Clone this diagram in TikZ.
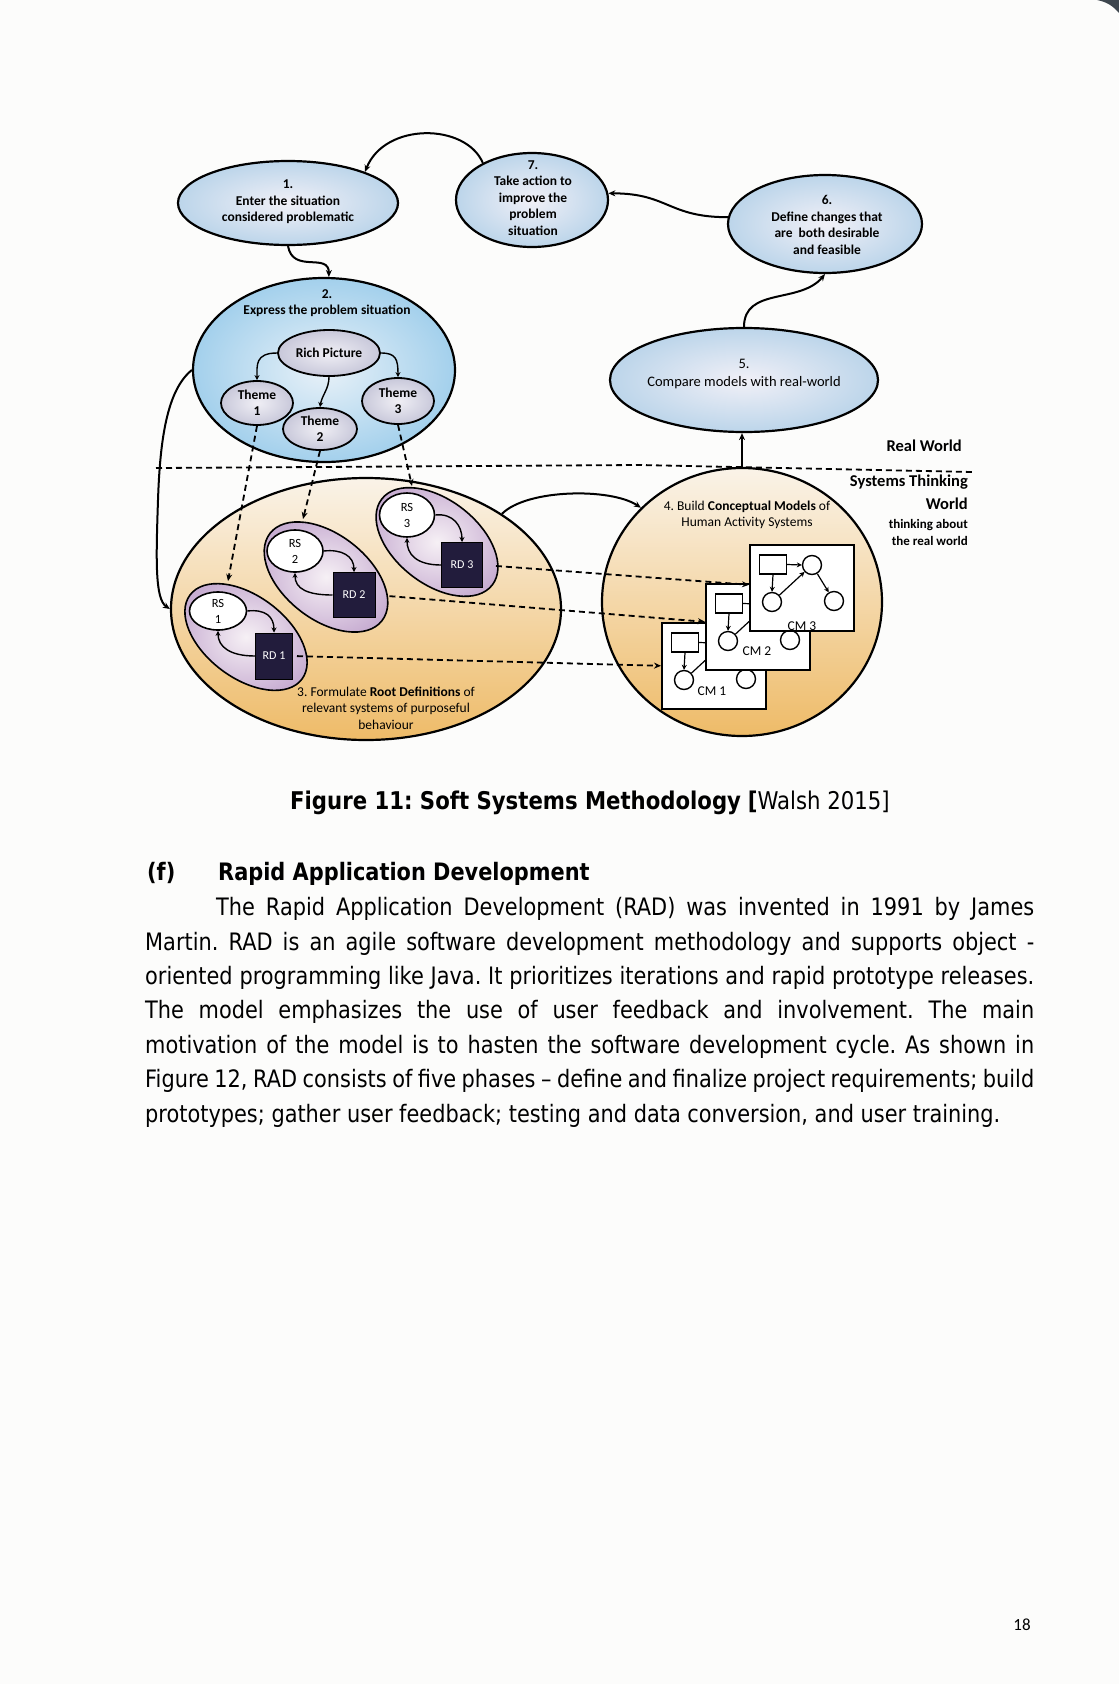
\documentclass[tikz,border=0pt]{standalone}
\usepackage{fontspec}
\usetikzlibrary{shapes.geometric,arrows.meta,calc}
\newfontfamily\diagfont{Carlito}
\newfontfamily\bodyfont[FakeStretch=0.87]{DejaVu Sans}
\definecolor{pagebg}{HTML}{FCFCFB}
\definecolor{blueIn}{HTML}{F1F0F7}
\definecolor{blueOut}{HTML}{BCD5EA}
\definecolor{ebIn}{HTML}{E8F1F8}
\definecolor{ebOut}{HTML}{A3D0EC}
\definecolor{lavIn}{HTML}{F0EFF5}
\definecolor{lavOut}{HTML}{C8C8DA}
\definecolor{orTop}{HTML}{FAF3E8}
\definecolor{orMid}{HTML}{F6DDB2}
\definecolor{orBot}{HTML}{EEBB68}
\definecolor{pinkIn}{HTML}{F6F0F5}
\definecolor{pinkOut}{HTML}{C8AED2}
\definecolor{rdfill}{HTML}{221C3C}
\definecolor{cornerdark}{HTML}{3E464E}
\newcommand{\cmdiag}[3]{%
  \node[cmbox] (#1) at (#2,#3) {};
  \node[cmrect] (#1r) at ($(#1.north west)+(24,20.5)$) {};
  \node[cmcirc] (#1a) at ($(#1.north west)+(63,21)$) {};
  \node[cmcirc] (#1b) at ($(#1.north west)+(23,58)$) {};
  \node[cmcirc] (#1c) at ($(#1.north west)+(85,57)$) {};
  \draw[cmarr] (#1r.east) -- (#1a.west);
  \draw[cmarr] (#1r.south) -- (#1b.north);
  \draw[cmarr] (#1b) -- (#1a);
  \draw[cmarr] (#1a) -- (#1c);
}
\frenchspacing
\begin{document}
\begin{tikzpicture}[x=1pt,y=-1pt,
  bigell/.style={ellipse, draw=black, line width=2.2pt, inner sep=0pt},
  blueell/.style={bigell, inner color=blueIn, outer color=blueOut},
  exprell/.style={bigell, inner color=ebIn, outer color=ebOut},
  lavell/.style={ellipse, draw=black, line width=1.8pt, inner sep=0pt, inner color=lavIn, outer color=lavOut},
  orell/.style={bigell, top color=orTop, middle color=orMid, bottom color=orBot},
  pinkell/.style={ellipse, draw=black, line width=1.6pt, inner sep=0pt, inner color=pinkIn, outer color=pinkOut},
  rsell/.style={ellipse, draw=black, line width=1.6pt, fill=white, inner sep=0pt},
  rdbox/.style={draw=black, line width=1pt, fill=rdfill, text=white, inner sep=0pt, font=\diagfont\fontsize{12}{14}\selectfont},
  lbl/.style={font=\diagfont\fontsize{13.5}{16.5}\selectfont\bfseries, align=center, inner sep=0pt},
  lblr/.style={font=\diagfont\fontsize{13.5}{16.5}\selectfont, align=center, inner sep=0pt},
  conn/.style={line width=2pt, -{Stealth[length=7pt,width=6pt]}},
  dconn/.style={line width=1.8pt, dash pattern=on 6pt off 4pt, -{Stealth[length=7pt,width=6pt]}},
  sepline/.style={line width=1.8pt, dash pattern=on 6pt off 4pt},
  innarr/.style={line width=1.4pt, -{Stealth[length=5pt,width=5pt]}},
  cmbox/.style={draw=black, fill=white, line width=1.6pt, anchor=north west, minimum width=104pt, minimum height=86pt, inner sep=0pt},
  cmrect/.style={draw=black, fill=white, line width=1.4pt, minimum width=27pt, minimum height=19pt, inner sep=0pt},
  cmcirc/.style={circle, draw=black, fill=white, line width=1.4pt, minimum size=19pt, inner sep=0pt},
  cmarr/.style={line width=1.2pt, -{Stealth[length=5pt,width=5pt]}},
  body/.style={font=\bodyfont\fontsize{24}{30}\selectfont, inner sep=0pt, anchor=base west},
]
\useasboundingbox (0,0) rectangle (1119,1684);
\fill[pagebg] (0,0) rectangle (1119,1684);
\fill[cornerdark] (1097,0) .. controls (1107,2) and (1113,6) .. (1119,13) -- (1119,0) -- cycle;

% separator between real world and systems thinking world
\coordinate (sepA) at (156,468);
\coordinate (sepB) at (640,465);
\coordinate (sepC) at (972,472);
\draw[sepline] (sepA) -- (sepB) -- (sepC);

% main ellipses
\node[blueell, minimum width=220pt, minimum height=84pt] (e1) at (288,203) {};
\node[blueell, minimum width=152pt, minimum height=94pt] (e7) at (532,200) {};
\node[blueell, minimum width=194pt, minimum height=98pt] (e6) at (825,224) {};
\node[blueell, minimum width=268pt, minimum height=104pt] (e5) at (744,380) {};
\node[exprell, minimum width=262pt, minimum height=184pt] (e2) at (324,370) {};
\node[orell, minimum width=390pt, minimum height=262pt] (e3) at (366,609) {};
\node[orell, minimum width=280pt, minimum height=268pt] (c4) at (742,602) {};

% inner ellipses of 2
\node[lavell, minimum width=102pt, minimum height=46pt] (rp) at (329,353) {};
\node[lavell, minimum width=72pt, minimum height=44pt] (t1) at (257,403) {};
\node[lavell, minimum width=74pt, minimum height=42pt] (t2) at (320,429) {};
\node[lavell, minimum width=72pt, minimum height=46pt] (t3) at (398,401) {};

% labels
\node[lbl] (e1t) at (288,202) {1.\\Enter the situation\\considered problematic};
\node[lbl] (e7t) at (533,198) {7.\\Take action to\\improve the\\problem\\situation};
\node[lbl] (e6t) at (827,225) {6.\\Define changes that\\are\ \ both desirable\\and feasible};
\node[lblr, font=\diagfont\fontsize{14.5}{18}\selectfont] (e5t) at (744,374) {5.\\Compare models with real-world};
\node[lbl] (e2t) at (327,303) {2.\\Express the problem situation};
\node[lbl] (rpt) at (rp) {Rich Picture};
\node[lbl] (t1t) at (t1) {Theme\\1};
\node[lbl] (t2t) at (t2) {Theme\\2};
\node[lbl] (t3t) at (t3) {Theme\\3};
\node[lblr] (c4t) at (747,515) {4. Build \textbf{Conceptual Models} of\\Human Activity Systems};
\node[lblr] (e3t) at (386,708) {3. Formulate \textbf{Root Definitions} of\\relevant systems of purposeful\\behaviour};

\node[font=\diagfont\fontsize{16.5}{19}\selectfont\bfseries, inner sep=0pt, anchor=east] (rw) at (962,446) {Real World};
\node[font=\diagfont\fontsize{16.5}{23}\selectfont\bfseries, inner sep=0pt, anchor=north east, align=right] (stw) at (968,475) {Systems Thinking\\World};
\node[font=\diagfont\fontsize{13}{17.5}\selectfont\bfseries, inner sep=0pt, anchor=north east, align=right] (tab) at (968,519) {thinking about\\the real world};

% root definitions
\node[pinkell, minimum width=140pt, minimum height=82pt, rotate=-37] (p1) at (246,637) {};
\node[pinkell, minimum width=142pt, minimum height=85pt, rotate=-38] (p2) at (326,577) {};
\node[pinkell, minimum width=140pt, minimum height=84pt, rotate=-38] (p3) at (437,542) {};
\node[rsell, minimum width=57pt, minimum height=38pt] (rs1) at (218,611) {};
\node[rsell, minimum width=56pt, minimum height=42pt] (rs2) at (295,551) {};
\node[rsell, minimum width=55pt, minimum height=44pt] (rs3) at (407,515) {};
\node[lblr, font=\diagfont\fontsize{12.5}{16}\selectfont] (rs1t) at (rs1) {RS\\1};
\node[lblr, font=\diagfont\fontsize{12.5}{16}\selectfont] (rs2t) at (rs2) {RS\\2};
\node[lblr, font=\diagfont\fontsize{12.5}{16}\selectfont] (rs3t) at (rs3) {RS\\3};
\node[rdbox, minimum width=37pt, minimum height=46pt] (rd1) at (274,656) {RD 1};
\node[rdbox, minimum width=42pt, minimum height=45pt] (rd2) at (354,595) {RD 2};
\node[rdbox, minimum width=41pt, minimum height=45pt] (rd3) at (462,565) {RD 3};
\draw[innarr] (rs1.east) .. controls +(18,-2) and +(0,-16) .. (rd1.north);
\draw[innarr] (rd1.west) .. controls +(-25,0) and +(0,16) .. (rs1.south);
\draw[innarr] (rs2.east) .. controls +(18,-2) and +(0,-16) .. (rd2.north);
\draw[innarr] (rd2.west) .. controls +(-25,0) and +(0,16) .. (rs2.south);
\draw[innarr] (rs3.east) .. controls +(18,-2) and +(0,-16) .. (rd3.north);
\draw[innarr] (rd3.west) .. controls +(-25,0) and +(0,16) .. (rs3.south);

% conceptual models
\cmdiag{cma}{661}{622}
\node[lblr] (cmat) at (712,691) {CM 1};
\cmdiag{cmb}{705}{583}
\node[lblr] (cmbt) at (757,651) {CM 2};
\cmdiag{cmc}{749}{544}
\node[lblr] (cmct) at (802,626) {CM 3};

% rich picture arrows
\draw[innarr] (rp.west) .. controls +(-22,0) and +(0,-15) .. (t1.north);
\draw[innarr] (rp.south) .. controls +(0,12) and +(2,-12) .. (t2.north);
\draw[innarr] (rp.east) .. controls +(15,0) and +(0,-18) .. (t3.north);

% cycle connectors
\draw[conn] (e1.south) .. controls +(5,28) and +(0,-25) .. (e2.87);
\draw[conn] (e7.143) .. controls +(-17,-40) and +(20,-50) .. (e1.22);
\draw[conn] (e6.176) .. controls +(-60,0) and +(60,0) .. (e7.5);
\draw[conn] (e5.north) .. controls +(0,-40) and +(-25,30) .. (e6.south);
\draw[conn] (c4.north) -- (c4.north |- e5.south);
\draw[conn] (e3.35) .. controls +(25,-25) and +(-30,-20) .. (c4.137);
\coordinate (lc) at (158,500);
\draw[conn] (e2.west) .. controls +(-25,20) and +(2,-60) .. (lc) .. controls +(-2,60) and +(-15,-10) .. (e3.west);

% themes to root definitions
\coordinate (p1in) at (228,581);
\coordinate (p2in) at (303,519);
\coordinate (p3in) at (412,486);
\draw[dconn] (t1.south) -- (p1in);
\draw[dconn] (t2.south) -- (p2in);
\draw[dconn] (t3.south) -- (p3in);

% root definitions to conceptual models
\draw[dconn, shorten <=13pt] (rd3.east) -- ($(cmc.west)+(0,-3)$);
\draw[dconn, shorten <=14pt] (rd2.east) -- ($(cmb.west)+(0,-5)$);
\draw[dconn, shorten <=4pt] (rd1.east) -- (cma.west);

% caption and body text
\node[body, font=\bodyfont\fontsize{24.4}{29}\selectfont] (cap) at (290,809) {\textbf{Figure 11: Soft Systems Methodology} \textbf{[}Walsh 2015]};
\node[body, font=\bodyfont\fontsize{24}{30}\selectfont\bfseries] (fl) at (147,880) {(f)};
\node[body, font=\bodyfont\fontsize{24}{30}\selectfont\bfseries] (fh) at (218,880) {Rapid Application Development};
\node[body] (l1) at (216,915) {\makebox[818pt][s]{The Rapid Application Development (RAD) was invented in 1991 by James}};
\node[body] (l2) at (145,950) {\makebox[889pt][s]{Martin. RAD is an agile software development methodology and supports object -}};
\node[body] (l3) at (145,984) {\makebox[889pt][s]{oriented programming like Java. It prioritizes iterations and rapid prototype releases.}};
\node[body] (l4) at (145,1018) {\makebox[889pt][s]{The model emphasizes the use of user feedback and involvement. The main}};
\node[body] (l5) at (145,1053) {\makebox[889pt][s]{motivation of the model is to hasten the software development cycle. As shown in}};
\node[body] (l6) at (145,1087) {\makebox[889pt][s]{Figure 12, RAD consists of five phases – define and finalize project requirements; build}};
\node[body] (l7) at (145,1122) {prototypes; gather user feedback; testing and data conversion, and user training.};
\node[font=\diagfont\fontsize{17}{20}\selectfont, inner sep=0pt] (pg) at (1022,1625) {18};
\end{tikzpicture}
\end{document}
